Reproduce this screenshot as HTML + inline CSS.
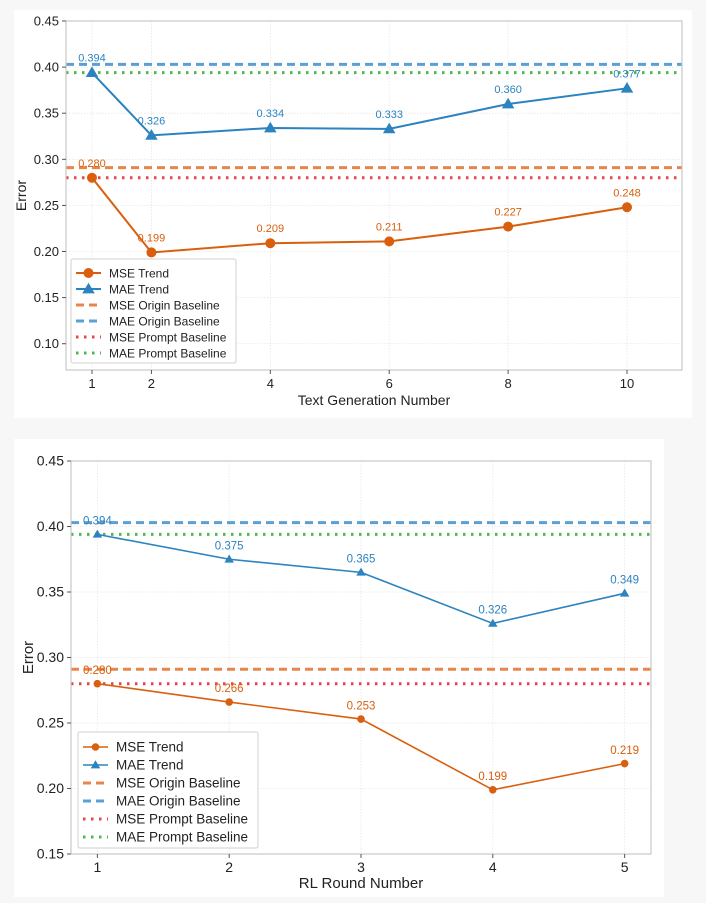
<!DOCTYPE html>
<html><head><meta charset="utf-8"><style>
html,body{margin:0;padding:0;background:#f7f7f7;width:706px;height:903px;overflow:hidden;font-family:"Liberation Sans","DejaVu Sans",sans-serif;}
svg{position:absolute;left:0;top:0}
</style></head><body>
<svg id="s" width="706" height="903" xmlns="http://www.w3.org/2000/svg">
<rect x="14" y="10" width="678" height="408" fill="#fff"/>
<rect x="14" y="439" width="650" height="458" fill="#fff"/>
</svg>
<script>
const topX=[1,2,4,6,8,10];
const topMSE=[0.280,0.199,0.209,0.211,0.227,0.248];
const topMAE=[0.394,0.326,0.334,0.333,0.360,0.377];
const topYTicks=[0.10,0.15,0.20,0.25,0.30,0.35,0.40,0.45];
const botX=[1,2,3,4,5];
const botMSE=[0.280,0.266,0.253,0.199,0.219];
const botMAE=[0.394,0.375,0.365,0.326,0.349];
const botYTicks=[0.15,0.20,0.25,0.30,0.35,0.40,0.45];
const mseOrigin=0.291, maeOrigin=0.403, msePrompt=0.280, maePrompt=0.394;

const NS="http://www.w3.org/2000/svg";
const svg=document.getElementById('s');
function el(tag,attrs,parent){const e=document.createElementNS(NS,tag);for(const k in attrs)e.setAttribute(k,attrs[k]);(parent||svg).appendChild(e);return e;}
const ORANGE="#d95f0e",BLUE="#2b83c0";

function chart(o){
  const g=el('g',{});
  
  
  const sx=v=>o.L+(v-o.xmin)/(o.xmax-o.xmin)*(o.R-o.L);
  const sy=v=>o.B-(v-o.ymin)/(o.ymax-o.ymin)*(o.B-o.T);
  o.ticksY.forEach(t=>{el('line',{x1:o.L,x2:o.R,y1:sy(t),y2:sy(t),stroke:'#e6e6e6','stroke-width':0.8,'stroke-dasharray':'1.5 1.5'},g);});
  o.xs.forEach(t=>{el('line',{x1:sx(t),x2:sx(t),y1:o.T,y2:o.B,stroke:'#e6e6e6','stroke-width':0.8,'stroke-dasharray':'1.5 1.5'},g);});
  const bl=[[maeOrigin,'#5b9fd3','8 5',3,'mae-origin-baseline'],[maePrompt,'#4cb84c','2.5 5.5',3,'mae-prompt-baseline'],[mseOrigin,'#e8854a','8 5',3,'mse-origin-baseline'],[msePrompt,'#e2474a','2.5 5.5',3,'mse-prompt-baseline']];
  bl.forEach(b=>{const l=el('line',{x1:o.L,x2:o.R,y1:sy(b[0]),y2:sy(b[0]),stroke:b[1],'stroke-width':b[3],'stroke-dasharray':b[2]},g);
    });
  [[o.mae,BLUE,'tri','mae-trend'],[o.mse,ORANGE,'circ','mse-trend']].forEach(s=>{
    const pts=o.xs.map((x,i)=>sx(x)+','+sy(s[0][i])).join(' ');
    const pl=el('polyline',{points:pts,fill:'none',stroke:s[1],'stroke-width':o.lw},g);
    
    o.xs.forEach((x,i)=>{
      const cx=sx(x),cy=sy(s[0][i]);let m;
      if(s[2]=='circ')m=el('circle',{cx:cx,cy:cy,r:o.ms,fill:s[1]},g);
      else{const r=o.ms*1.25;m=el('polygon',{points:`${cx},${cy-r} ${cx-r},${cy+r*0.7} ${cx+r},${cy+r*0.7}`,fill:s[1]},g);}
      
      const t=el('text',{x:cx,y:cy-o.ms-6,'text-anchor':'middle','font-size':o.lfs,fill:s[1]},g);
      t.textContent=s[0][i].toFixed(3);
      
    });
  });
  el('rect',{x:o.L,y:o.T,width:o.R-o.L,height:o.B-o.T,fill:'none',stroke:'#c8c8c8','stroke-width':1.2},g);
  o.ticksY.forEach(t=>{el('line',{x1:o.L-4,x2:o.L,y1:sy(t),y2:sy(t),stroke:'#555'},g);
    const tx=el('text',{x:o.L-7,y:sy(t)+4.5,'text-anchor':'end','font-size':o.tfs,fill:'#222'},g);tx.textContent=t.toFixed(2);
    });
  o.xs.forEach(t=>{el('line',{x1:sx(t),x2:sx(t),y1:o.B,y2:o.B+4,stroke:'#555'},g);
    const tx=el('text',{x:sx(t),y:o.B+18,'text-anchor':'middle','font-size':o.tfs,fill:'#222'},g);tx.textContent=t;
    });
  const xt=el('text',{x:(o.L+o.R)/2,y:o.xty,'text-anchor':'middle','font-size':o.afs,fill:'#222'},g);xt.textContent=o.xlabel;
  
  const yt=el('text',{x:0,y:0,transform:`translate(${o.ytx},${(o.T+o.B)/2}) rotate(-90)`,'text-anchor':'middle','font-size':o.afs,fill:'#222'},g);yt.textContent='Error';
  
  const lg=el('g',{},g);
  el('rect',{x:o.lx,y:o.ly,width:o.lwid,height:o.lh,fill:'#fff',stroke:'#d0d0d0',rx:2},lg);
  const entries=[['MSE Trend',ORANGE,'solid','circ'],['MAE Trend',BLUE,'solid','tri'],['MSE Origin Baseline','#e8854a','8 5'],['MAE Origin Baseline','#5b9fd3','8 5'],['MSE Prompt Baseline','#e2474a','2.5 5.5'],['MAE Prompt Baseline','#4cb84c','2.5 5.5']];
  const rh=(o.lh-8)/6;
  entries.forEach((e,i)=>{const y=o.ly+6+rh*(i+0.5);const x0=o.lx+5,x1=o.lx+30;
    const eg=el('g',{},lg);
    const a={x1:x0,x2:x1,y1:y,y2:y,stroke:e[1],'stroke-width':e[2]=='solid'?o.lw:3};if(e[2]!='solid')a['stroke-dasharray']=e[2];
    el('line',a,eg);
    if(e[3]=='circ')el('circle',{cx:(x0+x1)/2,cy:y,r:o.ms,fill:e[1]},eg);
    if(e[3]=='tri'){const r=o.ms*1.25,c=(x0+x1)/2;el('polygon',{points:`${c},${y-r} ${c-r},${y+r*0.7} ${c+r},${y+r*0.7}`,fill:e[1]},eg);}
    const t=el('text',{x:o.lx+38,y:y+4.5,'font-size':o.legfs,fill:'#222'},eg);t.textContent=e[0];});
}
chart({name:'text-generation-chart',L:66,R:682,T:21,B:370,xmin:0.563,xmax:10.925,ymin:0.0715,ymax:0.45,xs:topX,mse:topMSE,mae:topMAE,ticksY:topYTicks,
  lw:2,ms:5,lfs:11,tfs:13,afs:14,legfs:12,xlabel:'Text Generation Number',xty:405,ytx:26,lx:71,ly:259,lwid:165,lh:104});
chart({name:'rl-round-chart',L:71,R:651,T:461,B:854,xmin:0.8,xmax:5.2,ymin:0.15,ymax:0.45,xs:botX,mse:botMSE,mae:botMAE,ticksY:botYTicks,
  lw:1.6,ms:3.8,lfs:11.5,tfs:14,afs:15,legfs:13.5,xlabel:'RL Round Number',xty:888,ytx:33,lx:78,ly:732,lwid:180,lh:116});
</script>
</body></html>
